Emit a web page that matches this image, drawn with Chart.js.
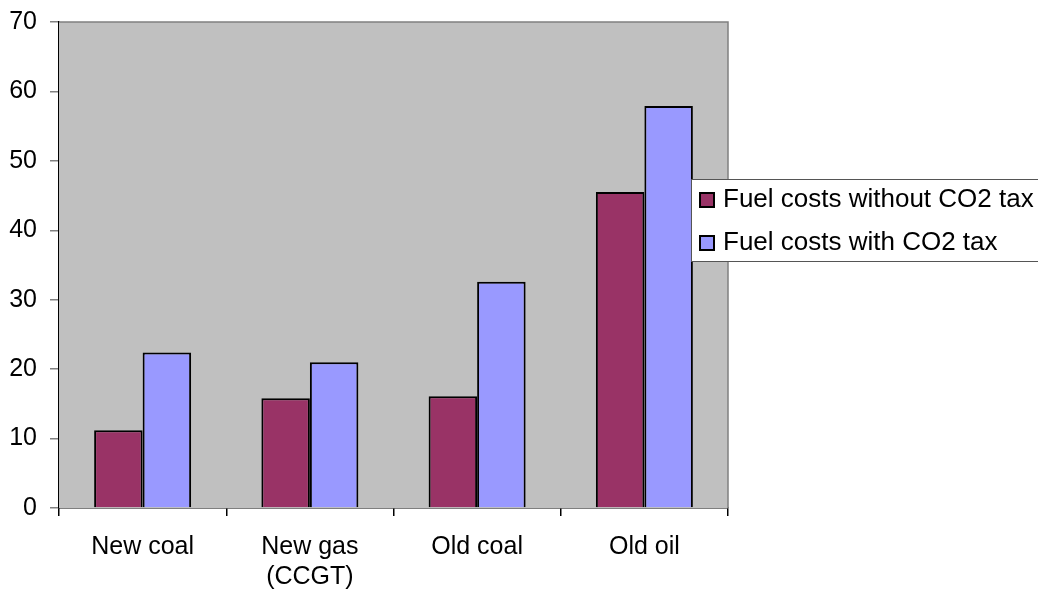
<!DOCTYPE html>
<html>
<head>
<meta charset="utf-8">
<script src="https://cdn.jsdelivr.net/npm/chart.js@4/dist/chart.umd.min.js"></script>
<style>
  html, body { margin: 0; padding: 0; background: #ffffff; }
  #wrap { width: 1038px; height: 591px; position: relative; }
</style>
</head>
<body>
<div id="wrap"><canvas id="fuelChart"></canvas></div>
<script>
(function () {

    'use strict';

    var plants = [['New coal'], ['New gas', '(CCGT)'], ['Old coal'], ['Old oil']];
    var withoutTax = [11.2, 15.8, 16.1, 45.5];
    var withTax = [22.4, 21.0, 32.6, 57.9];
    var seriesNames = ['Fuel costs without CO2 tax', 'Fuel costs with CO2 tax'];

    var FONT = 'Liberation Sans, Arial, sans-serif';

    // grey plot background plus the grey top/right frame
    var plotFrame = {
        id: 'plotFrame',
        beforeDatasetsDraw: function (chart) {
            var a = chart.chartArea, ctx = chart.ctx;
            ctx.save();
            ctx.fillStyle = '#c0c0c0';
            ctx.fillRect(a.left, a.top, a.right - a.left, a.bottom - a.top);
            ctx.strokeStyle = '#808080';
            ctx.lineWidth = 1.5;
            ctx.beginPath();
            ctx.moveTo(a.left, a.top);
            ctx.lineTo(a.right, a.top);
            ctx.lineTo(a.right, a.bottom);
            ctx.stroke();
            ctx.restore();
        }
    };

    // boxed legend sitting over the right edge of the plot
    var boxLegend = {
        id: 'boxLegend',
        afterDraw: function (chart) {
            var ctx = chart.ctx;
            var x = 691, y = 179, w = 360, h = 83;
            ctx.save();
            ctx.fillStyle = '#ffffff';
            ctx.fillRect(x, y, w, h);
            ctx.strokeStyle = '#555555';
            ctx.lineWidth = 1;
            ctx.strokeRect(x + 0.5, y + 0.5, w, h - 1);
            ctx.font = '26px ' + FONT;
            ctx.textBaseline = 'middle';
            chart.data.datasets.forEach(function (ds, i) {
                var cy = 200 + i * 43;
                ctx.fillStyle = ds.backgroundColor;
                ctx.fillRect(700, cy - 7, 14, 14);
                ctx.strokeStyle = '#000000';
                ctx.lineWidth = 2;
                ctx.strokeRect(700, cy - 7, 14, 14);
                ctx.fillStyle = '#000000';
                ctx.fillText(ds.label, 723, cy);
            });
            ctx.restore();
        }
    };

    var ctx = document.getElementById('fuelChart').getContext('2d');
    var fuelChart = new Chart(ctx, {
        type: 'bar',
        data: {
            labels: plants,
            datasets: [{
                label: seriesNames[0],
                data: withoutTax,
                backgroundColor: '#993366',
                borderColor: '#000000',
                borderWidth: 2
            }, {
                label: seriesNames[1],
                data: withTax,
                backgroundColor: '#9999ff',
                borderColor: '#000000',
                borderWidth: 2
            }]
        },
        options: {
            responsive: true,
            maintainAspectRatio: false,
            animation: false,
            layout: { padding: { top: 22, right: 310, bottom: 0, left: 0 } },
            categoryPercentage: 0.58,
            barPercentage: 1.0,
            plugins: {
                legend: { display: false },
                tooltip: { enabled: false }
            },
            scales: {
                x: {
                    grid: {
                        offset: true,
                        drawOnChartArea: false,
                        drawTicks: true,
                        tickLength: 8,
                        color: '#000000',
                        lineWidth: 1.5
                    },
                    border: { color: '#000000', width: 1.5 },
                    ticks: {
                        color: '#000000',
                        padding: 16,
                        font: { family: FONT, size: 25 },
                        maxRotation: 0
                    },
                    afterFit: function (scale) {
                        scale.height = 83;
                        scale.paddingLeft = 0;
                        scale.paddingRight = 0;
                    }
                },
                y: {
                    min: 0,
                    max: 70,
                    grid: {
                        drawOnChartArea: false,
                        drawTicks: true,
                        tickLength: 9,
                        color: '#808080',
                        lineWidth: 1.5
                    },
                    border: { color: '#000000', width: 1.5 },
                    ticks: {
                        stepSize: 10,
                        color: '#000000',
                        padding: 13,
                        font: { family: FONT, size: 25 }
                    },
                    afterFit: function (scale) {
                        scale.width = 59;
                        scale.paddingTop = 0;
                        scale.paddingBottom = 0;
                    }
                }
            }
        },
        plugins: [plotFrame, boxLegend]
    });

})();
</script>
</body>
</html>
